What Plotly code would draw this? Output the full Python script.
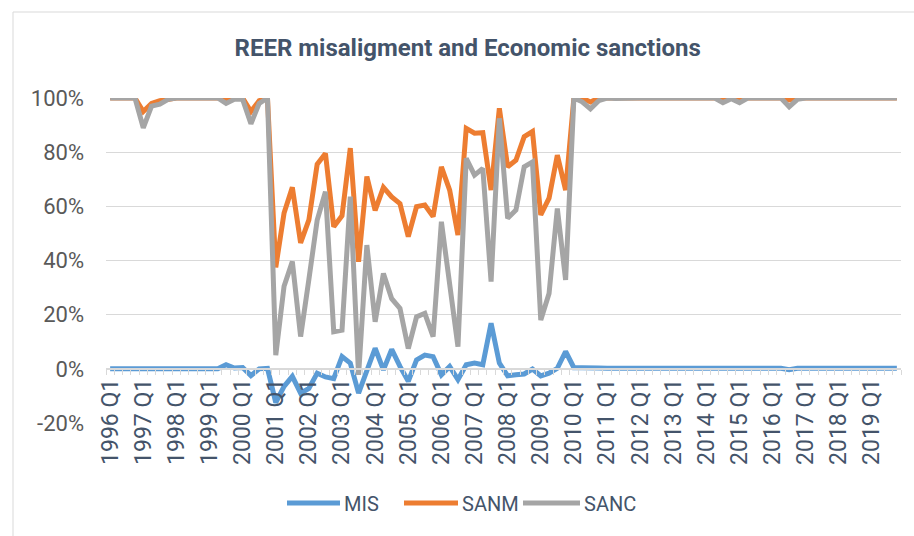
import plotly.graph_objects as go

years = list(range(1996, 2020))
quarters = [f"{y} Q{q}" for y in years for q in (1, 2, 3, 4)]
tick_labels = [c if c.endswith("Q1") else "" for c in quarters]
y_ticks = [-20, 0, 20, 40, 60, 80, 100]
y_tick_labels = ["-20%", "0%", "20%", "40%", "60%", "80%", "100%"]

mis = [0, 0, 0, 0, 0.3, 0.4, 0.1, 0, 0, 0, 0, 0, 0, 0,
       1.5, 0.3, 0.5, -2.5, 0, 0.2,
       -12.5, -6.5, -2.8, -9.0, -7.2, -1.6, -3.0, -3.6, 4.5, 2.1,
       -9.0, -0.4, 7.6, -0.4, 7.2, 0.9, -4.6, 3.3, 5.1, 4.5,
       -2.2, 0.9, -4.0, 1.5, 2.1, 1.5, 16.8, 2.1, -2.6, -2.2,
       -1.9, -0.1, -2.6, -1.6, 0.2, 6.4, 0.4, 0.4, 0.5, 0.3,
       0.2, 0.2, 0.2, 0.2, 0.2, 0.2, 0.2, 0.2, 0.2, 0.2,
       0.2, 0.2, 0.2, 0.2, 0.2, 0.1, 0.2, 0.2, 0.2, 0.2,
       0.2, 0.2, -0.3, 0.2, 0.2, 0.2, 0.2, 0.2, 0.2, 0.2,
       0.2, 0.2, 0.2, 0.2, 0.2, 0.2]

sanm = [100, 100, 100, 100, 95, 98, 99, 99.5, 100, 100, 100, 100, 100, 100,
        99.5, 100, 100, 95, 99, 100,
        37.5, 57.5, 67, 46.5, 55, 75.5, 79.5, 52.5, 56.5, 81.5,
        39.5, 71, 58.5, 67, 63.5, 61, 48.8, 59.9, 60.5, 56.2,
        74.6, 66, 49.4, 88.8, 87, 87.2, 66, 96.2, 74.6, 77,
        85.7, 87.6, 56.8, 63, 78.9, 66, 100, 100, 98.5, 100,
        100, 100, 100, 100, 100, 100, 100, 100, 100, 100,
        100, 100, 100, 100, 100, 100, 100, 100, 100, 100,
        100, 100, 99.3, 100, 100, 100, 100, 100, 100, 100,
        100, 100, 100, 100, 100, 100]

sanc = [100, 100, 100, 100, 89, 97, 97.7, 99.5, 100, 100, 100, 100, 100, 100,
        98, 99.5, 99.5, 90.5, 98, 100,
        5, 30.5, 39.6, 11.9, 33, 54.9, 65.4, 13.7, 14.3, 63.6,
        -2.2, 45.7, 17.4, 35.2, 25.9, 22.3, 7.5, 19.2, 20.5, 11.9,
        54.3, 31.6, 8.2, 77.7, 71.5, 74, 32.2, 92.5, 55.6, 58.6,
        74.6, 76.4, 18, 27.8, 59.2, 32.8, 100, 98.6, 96, 99,
        100, 99.8, 100, 100, 100, 100, 100, 100, 100, 100,
        100, 100, 100, 100, 98.3, 99.7, 98.3, 100, 100, 100,
        100, 100, 96.8, 99.5, 100, 100, 100, 100, 100, 100,
        100, 100, 100, 100, 100, 100]

series = [("MIS", mis, "#5B9BD5"), ("SANM", sanm, "#ED7D31"), ("SANC", sanc, "#A5A5A5")]

FONT = "Roboto, 'Open Sans', sans-serif"
TXT = "#44546A"

# plot area in pixels (for placing non-data decorations)
PL, PR, PT, PB = 106, 901, 98, 423
def px(x):
    return (x - PL) / (PR - PL)
def py(y):
    return (PB - y) / (PB - PT)

fig = go.Figure()
for name, vals, col in series:
    fig.add_trace(go.Scatter(x=quarters, y=vals, name=name, mode="lines",
                             line=dict(color=col, width=5), showlegend=False))

# custom legend (line sample + label)
legend_slots = [(287, 340), (404, 458), (523, 580)]
shapes = [dict(type="rect", xref="paper", yref="paper",
               x0=px(13), x1=px(930), y0=py(560), y1=py(12),
               line=dict(color="#D9D9D9", width=1), fillcolor="rgba(0,0,0,0)",
               layer="below")]
annotations = []
for (name, _, col), (a, b) in zip(series, legend_slots):
    shapes.append(dict(type="line", xref="paper", yref="paper",
                       x0=px(a), x1=px(b), y0=py(503), y1=py(503),
                       line=dict(color=col, width=5)))
    annotations.append(dict(text=name, xref="paper", yref="paper",
                            x=px(b + 2), y=py(504), xanchor="left", yanchor="middle",
                            showarrow=False, font=dict(size=20, color=TXT, family=FONT)))

fig.update_layout(
    width=914, height=536,
    margin=dict(l=PL, r=914 - PR, t=PT, b=536 - PB, autoexpand=False),
    paper_bgcolor="white", plot_bgcolor="white",
    font=dict(family=FONT, color=TXT),
    title=dict(text="<b>REER misaligment and Economic sanctions</b>",
               font=dict(size=24, color=TXT, family=FONT),
               x=0.455, xref="paper", xanchor="center",
               y=1 - 48 / 536, yref="container", yanchor="middle"),
    showlegend=False,
    xaxis=dict(type="category", categoryorder="array", categoryarray=quarters,
               tickvals=quarters, ticktext=tick_labels, tickangle=-90,
               tickson="boundaries", ticks="outside", ticklen=5,
               tickcolor="#D9D9D9", showgrid=False,
               showline=True, linecolor="#D9D9D9", linewidth=1.5,
               anchor="free", position=1 / 6, automargin=False,
               tickfont=dict(size=23, color=TXT), range=[-0.5, 95.5]),
    yaxis=dict(range=[-20, 100], tickvals=y_ticks, ticktext=y_tick_labels,
               showgrid=True, gridcolor="#D9D9D9", gridwidth=1,
               zeroline=False, showline=False, automargin=False,
               tickfont=dict(size=22, color="#595959"),
               ticklabelstandoff=21),
    shapes=shapes,
    annotations=annotations,
)

fig.write_html("out.html", config={"displayModeBar": False},
               post_script="document.body.style.margin='0';document.body.style.overflow='hidden';")
